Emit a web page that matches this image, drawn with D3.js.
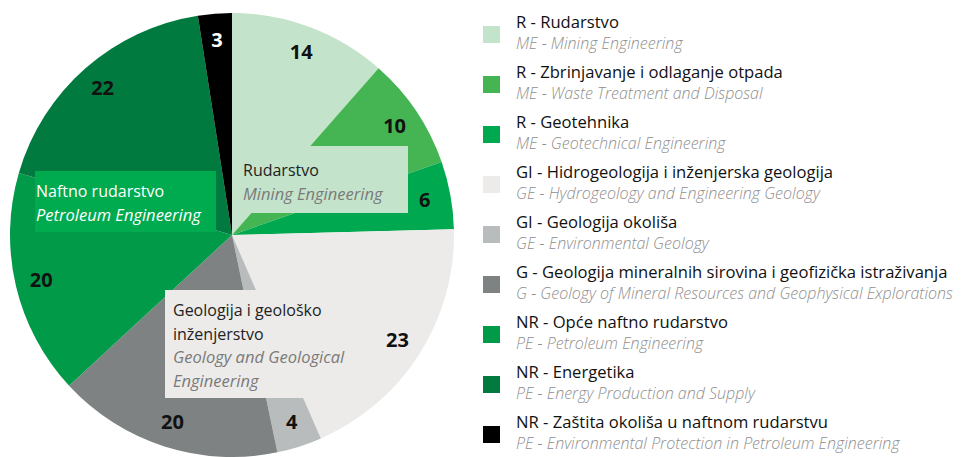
<!DOCTYPE html>
<html>
<head>
<meta charset="utf-8">
<script src="https://cdn.jsdelivr.net/npm/d3@7/dist/d3.min.js"></script>
<style>
  body { margin: 0; background: #fff; }
  svg { display: block; font-family: "Open Sans", "Noto Sans", sans-serif; }
</style>
</head>
<body>
<div id="chart"></div>
<script>
// slices, clockwise from 12 o'clock
const names = [
  'R - Rudarstvo',
  'R - Zbrinjavanje i odlaganje otpada',
  'R - Geotehnika',
  'GI - Hidrogeologija i inženjerska geologija',
  'GI - Geologija okoliša',
  'G - Geologija mineralnih sirovina i geofizička istraživanja',
  'NR - Opće naftno rudarstvo',
  'NR - Energetika',
  'NR - Zaštita okoliša u naftnom rudarstvu'
];
const namesEn = [
  'ME - Mining Engineering',
  'ME - Waste Treatment and Disposal',
  'ME - Geotechnical Engineering',
  'GE - Hydrogeology and Engineering Geology',
  'GE - Environmental Geology',
  'G - Geology of Mineral Resources and Geophysical Explorations',
  'PE - Petroleum Engineering',
  'PE - Energy Production and Supply',
  'PE - Environmental Protection in Petroleum Engineering'
];
const values = [14, 10, 6, 23, 4, 20, 20, 22, 3];
const colors = ['#c4e3cb', '#45b553', '#00a94f', '#ecebe9', '#b9bcbd', '#7f8283', '#009a49', '#007a3e', '#000000'];

// group captions sitting on top of the pie
const groupTitles = [['Rudarstvo'], ['Naftno rudarstvo'], ['Geologija i geološko', 'inženjerstvo']];
const groupTitlesEn = [['Mining Engineering'], ['Petroleum Engineering'], ['Geology and Geological', 'Engineering']];
const groupFills = ['#c4e3cb', '#00aa4f', '#ecebe9'];
const groupText = ['#222', '#fff', '#222'];
const groupTextEn = ['#7a7a7a', '#fff', '#7a7a7a'];

const W = 965, H = 457;
const cx = 232, cy = 235, R = 222;

const svg = d3.select('#chart').append('svg')
  .attr('width', W).attr('height', H);

const pie = d3.pie().sort(null).value(d => d);
const arcs = pie(values);
const arc = d3.arc().innerRadius(0).outerRadius(R);
const labelArc = d3.arc().innerRadius(196).outerRadius(196);

const g = svg.append('g').attr('transform', `translate(${cx},${cy})`);

g.selectAll('path.slice')
  .data(arcs)
  .enter().append('path')
  .attr('class', 'slice')
  .attr('d', arc)
  .attr('fill', (d, i) => colors[i]);

// caption boxes (offsets from pie centre)
const boxes = [
  { x: 0, y: -89, w: 176, h: 67, pad: 11, top: 30 },
  { x: -197, y: -64, w: 181, h: 61, pad: 1, top: 26 },
  { x: -67, y: 55, w: 205, h: 108, pad: 8, top: 26 }
];
boxes.forEach((b, k) => {
  const bg = g.append('g').attr('transform', `translate(${b.x},${b.y})`);
  bg.append('rect').attr('width', b.w).attr('height', b.h).attr('fill', groupFills[k]);
  let yy = b.top;
  groupTitles[k].forEach(t => {
    bg.append('text').attr('x', b.pad).attr('y', yy)
      .attr('font-size', 16).attr('fill', groupText[k]).text(t);
    yy += 23.5;
  });
  groupTitlesEn[k].forEach(t => {
    bg.append('text').attr('x', b.pad).attr('y', yy)
      .attr('font-size', 16.5).attr('font-style', 'italic')
      .attr('fill', groupTextEn[k]).text(t);
    yy += 23.5;
  });
});

// value labels
g.selectAll('text.val')
  .data(arcs)
  .enter().append('text')
  .attr('class', 'val')
  .attr('transform', d => `translate(${labelArc.centroid(d)})`)
  .attr('text-anchor', 'middle')
  .attr('dy', '0.35em')
  .attr('font-size', 20)
  .attr('font-weight', 700)
  .attr('fill', (d, i) => i === 8 ? '#fff' : '#111')
  .text(d => d.data);

// legend
const legend = svg.append('g').attr('transform', 'translate(483,26)');
const item = legend.selectAll('g.item')
  .data(names)
  .enter().append('g')
  .attr('class', 'item')
  .attr('transform', (d, i) => `translate(0,${i * 50})`);

item.append('rect')
  .attr('width', 17).attr('height', 17)
  .attr('fill', (d, i) => colors[i]);

item.append('text')
  .attr('x', 33).attr('y', 2)
  .attr('font-size', 16.6)
  .attr('fill', '#111')
  .text(d => d);

item.append('text')
  .attr('x', 33).attr('y', 23)
  .attr('font-size', 16)
  .attr('font-style', 'italic')
  .attr('font-weight', 300)
  .attr('fill', '#8f8f8f')
  .text((d, i) => namesEn[i]);
</script>
</body>
</html>
